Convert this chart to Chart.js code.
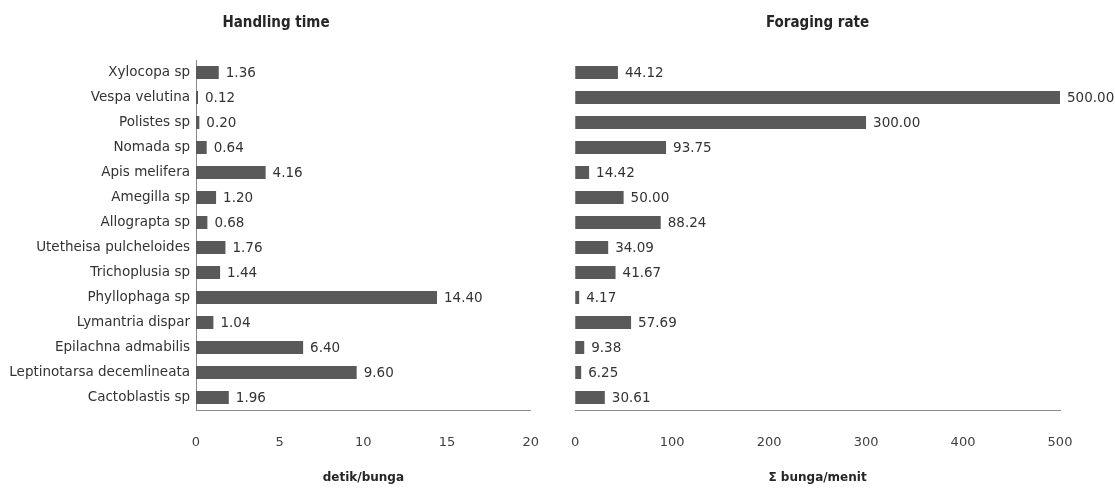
<!DOCTYPE html>
<html>
<head>
<meta charset="utf-8">
<script src="https://cdn.jsdelivr.net/npm/chart.js@4.4.0/dist/chart.umd.min.js"></script>
<style>
  html, body { margin: 0; padding: 0; background: #ffffff; }
  #wrap { position: relative; width: 1115px; height: 488px; overflow: hidden; }
  .box { position: absolute; top: 0; height: 488px; }
  #leftBox { left: 1px; width: 563px; }
  #rightBox { left: 546px; width: 569px; }
</style>
</head>
<body>
<div id="wrap">
  <div class="box" id="leftBox"><canvas id="left"></canvas></div>
  <div class="box" id="rightBox"><canvas id="right"></canvas></div>
</div>
<script>
const categories = [
  "Xylocopa sp", "Vespa velutina", "Polistes sp", "Nomada sp", "Apis melifera",
  "Amegilla sp", "Allograpta sp", "Utetheisa pulcheloides", "Trichoplusia sp",
  "Phyllophaga sp", "Lymantria dispar", "Epilachna admabilis",
  "Leptinotarsa decemlineata", "Cactoblastis sp"
];
const handlingTime = [1.36, 0.12, 0.20, 0.64, 4.16, 1.20, 0.68, 1.76, 1.44, 14.40, 1.04, 6.40, 9.60, 1.96];
const foragingRate = [44.12, 500.00, 300.00, 93.75, 14.42, 50.00, 88.24, 34.09, 41.67, 4.17, 57.69, 9.38, 6.25, 30.61];
const leftTitle = "Handling time";
const rightTitle = "Foraging rate";
const leftAxisTitle = "detik/bunga";
const rightAxisTitle = "\u03A3 bunga/menit";
const leftTicks = { min: 0, max: 20, step: 5 };
const rightTicks = { min: 0, max: 500, step: 100 };

const BAR = "#595959";
const TEXT = "#333333";
const AXIS = "#8a8a8a";
const FONT = "'DejaVu Sans', sans-serif";
const TITLE_FONT = "'DejaVu Sans Condensed', 'DejaVu Sans', sans-serif";

Chart.defaults.font.family = FONT;
Chart.defaults.color = TEXT;

const valueLabels = {
  id: 'valueLabels',
  afterDatasetsDraw(chart) {
    const ctx = chart.ctx;
    const meta = chart.getDatasetMeta(0);
    const data = chart.data.datasets[0].data;
    ctx.save();
    ctx.font = "13.5px " + FONT;
    ctx.fillStyle = TEXT;
    ctx.textAlign = 'left';
    ctx.textBaseline = 'middle';
    meta.data.forEach((bar, i) => {
      ctx.fillText(data[i].toFixed(2), bar.x + 7, bar.y + 1);
    });
    ctx.restore();
  }
};

function makeChart(id, values, title, axisTitle, ticks, showY, yWidth, padding, titleFull) {
  return new Chart(document.getElementById(id), {
    type: 'bar',
    data: {
      labels: categories,
      datasets: [{
        data: values,
        backgroundColor: BAR,
        borderWidth: 0,
        barPercentage: 0.52,
        categoryPercentage: 1.0
      }]
    },
    options: {
      indexAxis: 'y',
      responsive: true,
      maintainAspectRatio: false,
      animation: false,
      layout: { padding: padding },
      plugins: {
        legend: { display: false },
        tooltip: { enabled: false },
        title: {
          display: true,
          text: title,
          fullSize: titleFull,
          color: "#262626",
          font: { family: TITLE_FONT, size: 15, weight: 'bold' },
          padding: { top: 14, bottom: 28 }
        }
      },
      scales: {
        x: {
          type: 'linear',
          min: ticks.min,
          max: ticks.max,
          grid: { display: false, drawTicks: false },
          border: { display: true, color: AXIS, width: 1 },
          ticks: {
            stepSize: ticks.step,
            padding: 25,
            color: "#404040",
            font: { size: 13 },
            maxRotation: 0
          },
          title: {
            display: true,
            text: axisTitle,
            color: "#262626",
            font: { size: 12, weight: 'bold' },
            padding: { top: 4, bottom: 3 }
          },
          afterFit(s) { s.height = 78; }
        },
        y: {
          display: showY,
          grid: { display: false, drawTicks: false },
          border: { display: showY, color: AXIS, width: 1 },
          ticks: {
            padding: 6,
            color: TEXT,
            font: { size: 13.5 },
            autoSkip: false
          },
          afterFit(s) { if (showY) s.width = yWidth; }
        }
      }
    },
    plugins: [valueLabels]
  });
}

makeChart('left', handlingTime, leftTitle, leftAxisTitle, leftTicks, true, 195,
  { left: 0, right: 13, top: 0, bottom: 0 }, true);
makeChart('right', foragingRate, rightTitle, rightAxisTitle, rightTicks, false, 0,
  { left: 0, right: 55, top: 0, bottom: 0 }, false);
</script>
</body>
</html>
